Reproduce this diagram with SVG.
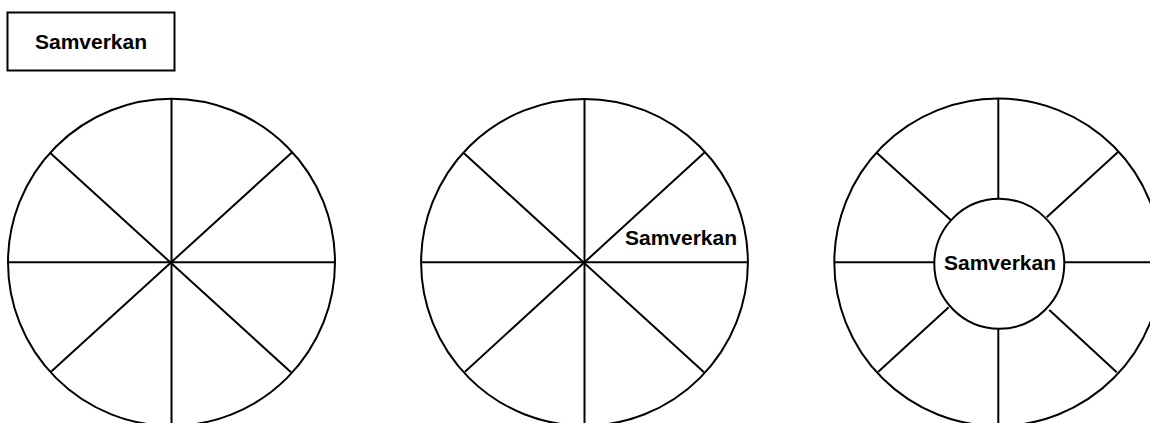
<svg xmlns="http://www.w3.org/2000/svg" width="1150" height="423" viewBox="0 0 1150 423">
<style>
.ln{stroke:#000;stroke-width:2;fill:none}
.c{stroke:#000;stroke-width:2;fill:#fff}
.t{font-family:"Liberation Sans",Arial,sans-serif;font-weight:bold;font-size:21px;fill:#000;text-anchor:middle}
</style>
<rect width="1150" height="423" fill="#fff"/>
<g id="title">
<rect x="7.5" y="12.5" width="167" height="58" fill="#fff" stroke="#000" stroke-width="2"/>
<text class="t" x="91" y="49">Samverkan</text>
</g>
<g id="wheel1">
<circle class="c" cx="171.5" cy="262.3" r="163.5"/>
<g class="connectors">
<line class="ln" x1="171.5" y1="99" x2="171.5" y2="430"/>
<line class="ln" x1="8" y1="262.3" x2="335" y2="262.3"/>
<line class="ln" x1="50" y1="152.7" x2="291" y2="372.3"/>
<line class="ln" x1="292.7" y1="151.7" x2="51" y2="371.7"/>
</g>
</g>
<g id="wheel2">
<circle class="c" cx="584.5" cy="262.3" r="163.4"/>
<g class="connectors">
<line class="ln" x1="584.5" y1="99" x2="584.5" y2="430"/>
<line class="ln" x1="421" y1="262.3" x2="748" y2="262.3"/>
<line class="ln" x1="464" y1="153.3" x2="704" y2="372.3"/>
<line class="ln" x1="705.3" y1="151.7" x2="465" y2="371.7"/>
</g>
<text class="t" x="681" y="245">Samverkan</text>
</g>
<g id="wheel3">
<circle class="c" cx="998" cy="262.3" r="163.7"/>
<g class="connectors">
<line class="ln" x1="998.3" y1="99" x2="998.3" y2="198.5"/>
<line class="ln" x1="998.3" y1="329" x2="998.3" y2="430"/>
<line class="ln" x1="834" y1="262.3" x2="934.5" y2="262.3"/>
<line class="ln" x1="1064" y1="262.3" x2="1162" y2="262.3"/>
<line class="ln" x1="876.7" y1="152.7" x2="950.7" y2="220"/>
<line class="ln" x1="1118.3" y1="151.7" x2="1046.7" y2="217.3"/>
<line class="ln" x1="878.3" y1="371.7" x2="948.7" y2="307.3"/>
<line class="ln" x1="1116.7" y1="372.3" x2="1049.3" y2="310"/>
</g>
<g id="center3">
<circle class="c" cx="999.3" cy="263.8" r="65"/>
<text class="t" x="1000" y="270">Samverkan</text>
</g>
</g>
</svg>
